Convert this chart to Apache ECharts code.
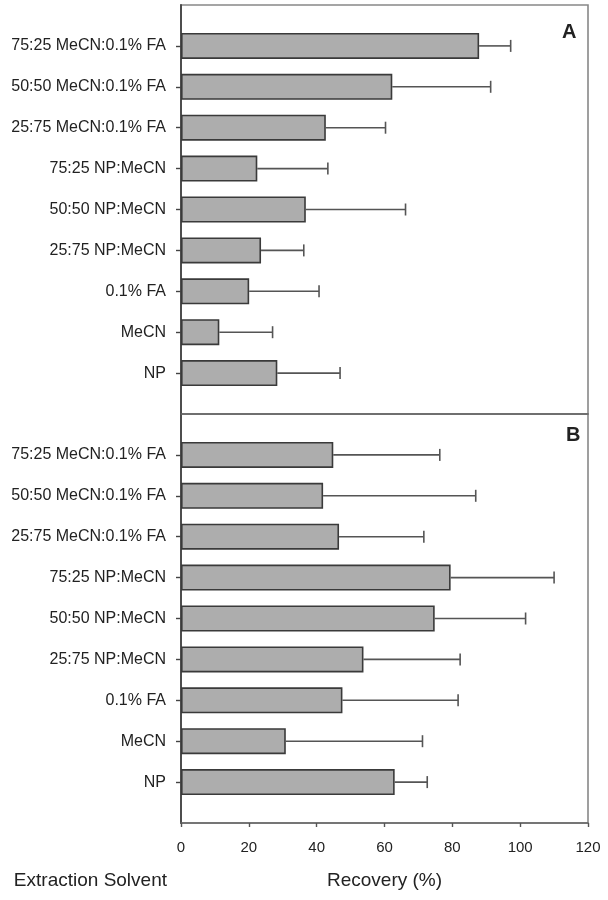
<!DOCTYPE html>
<html>
<head>
<meta charset="utf-8">
<script src="https://cdn.jsdelivr.net/npm/echarts@6/dist/echarts.min.js"></script>
<style>
  html, body { margin: 0; padding: 0; background: #fff; }
  #chart { width: 608px; height: 900px; }
</style>
</head>
<body>
<div id="chart"></div>
<script>
// ---- data ----
const categories = [
  '75:25 MeCN:0.1% FA',
  '50:50 MeCN:0.1% FA',
  '25:75 MeCN:0.1% FA',
  '75:25 NP:MeCN',
  '50:50 NP:MeCN',
  '25:75 NP:MeCN',
  '0.1% FA',
  'MeCN',
  'NP'
];
const recoveryA = [87.9, 62.3, 42.7, 22.5, 36.8, 23.6, 20.1, 11.3, 28.4];
const errorA    = [9.3, 29.0, 17.6, 20.8, 29.4, 12.6, 20.6, 15.7, 18.5];
const recoveryB = [44.9, 41.9, 46.6, 79.5, 74.8, 53.8, 47.6, 30.9, 63.0];
const errorB    = [31.4, 45.0, 25.0, 30.5, 26.8, 28.5, 34.1, 40.3, 9.6];
const xTicks = [0, 20, 40, 60, 80, 100, 120];
const panelLabels = ['A', 'B'];
const xTitle = 'Recovery (%)';
const yTitle = 'Extraction Solvent';

// ---- build ----
const FONT = 'Arial, "Liberation Sans", Helvetica, sans-serif';
const TXT = '#222';
const axisData = [''].concat(categories, ['']);

function barSeries(vals, gi) {
  return {
    type: 'bar',
    xAxisIndex: gi, yAxisIndex: gi,
    barWidth: 26,
    data: vals.map((v, i) => [v, i + 1]),
    encode: { x: 0, y: 1 },
    itemStyle: { color: '#adadad', borderColor: '#3a3a3a', borderWidth: 1.6 },
    silent: true,
    z: 3
  };
}
function errSeries(vals, errs, gi) {
  return {
    type: 'custom',
    xAxisIndex: gi, yAxisIndex: gi,
    data: vals.map((v, i) => [v, i + 1, v + errs[i]]),
    encode: { x: [0, 2], y: 1 },
    renderItem: function (params, api) {
      const p0 = api.coord([api.value(0), api.value(1)]);
      const p1 = api.coord([api.value(2), api.value(1)]);
      const st = { stroke: '#555', lineWidth: 1.6 };
      return {
        type: 'group',
        children: [
          { type: 'line', shape: { x1: p0[0], y1: p0[1], x2: p1[0], y2: p1[1] }, style: st },
          { type: 'line', shape: { x1: p1[0], y1: p1[1] - 6, x2: p1[0], y2: p1[1] + 6 }, style: st }
        ]
      };
    },
    silent: true,
    z: 2
  };
}

function xAxisCfg(gi, showLabels) {
  return {
    type: 'value', gridIndex: gi, min: 0, max: 120, interval: 20,
    axisLine: { show: true, lineStyle: { color: '#666', width: 1.6 } },
    axisTick: { show: showLabels, length: 4, lineStyle: { color: '#555', width: 1.4 } },
    axisLabel: {
      show: showLabels, fontSize: 15, color: TXT, fontFamily: FONT, margin: 17,
      formatter: v => (xTicks.indexOf(v) >= 0 ? String(v) : '')
    },
    splitLine: { show: false },
    name: showLabels ? xTitle : '',
    nameLocation: 'middle',
    nameGap: 48,
    nameTextStyle: { fontSize: 19, color: TXT, fontFamily: FONT }
  };
}
function yAxisCfg(gi) {
  return {
    type: 'category', gridIndex: gi, data: axisData, inverse: true,
    boundaryGap: false,
    axisLine: { show: true, lineStyle: { color: '#444', width: 1.8 } },
    axisTick: {
      show: true, length: 5, lineStyle: { color: '#444', width: 1.4 },
      interval: (idx, val) => val !== ''
    },
    axisLabel: {
      fontSize: 16, color: TXT, fontFamily: FONT, margin: 15,
      interval: 0
    },
    splitLine: { show: false }
  };
}

const option = {
  animation: false,
  backgroundColor: '#fff',
  grid: [
    { left: 181, top: 5, width: 407, height: 409, show: true, borderColor: '#888', borderWidth: 1.6, backgroundColor: 'transparent' },
    { left: 181, top: 414, width: 407, height: 409, show: true, borderColor: '#888', borderWidth: 1.6, backgroundColor: 'transparent' }
  ],
  xAxis: [xAxisCfg(0, false), xAxisCfg(1, true)],
  yAxis: [yAxisCfg(0), yAxisCfg(1)],
  series: [
    errSeries(recoveryA, errorA, 0),
    barSeries(recoveryA, 0),
    errSeries(recoveryB, errorB, 1),
    barSeries(recoveryB, 1)
  ],
  graphic: [
    { type: 'text', left: 562, top: 22, style: { text: panelLabels[0], fontSize: 20, fontWeight: 'bold', fill: TXT, fontFamily: FONT } },
    { type: 'text', left: 566, top: 425, style: { text: panelLabels[1], fontSize: 20, fontWeight: 'bold', fill: TXT, fontFamily: FONT } },
    { type: 'text', right: 608 - 167, top: 871, style: { text: yTitle, fontSize: 19, fill: TXT, fontFamily: FONT, textAlign: 'right' } }
  ]
};

const chart = echarts.init(document.getElementById('chart'), null, { renderer: 'canvas' });
chart.setOption(option);
</script>
</body>
</html>
